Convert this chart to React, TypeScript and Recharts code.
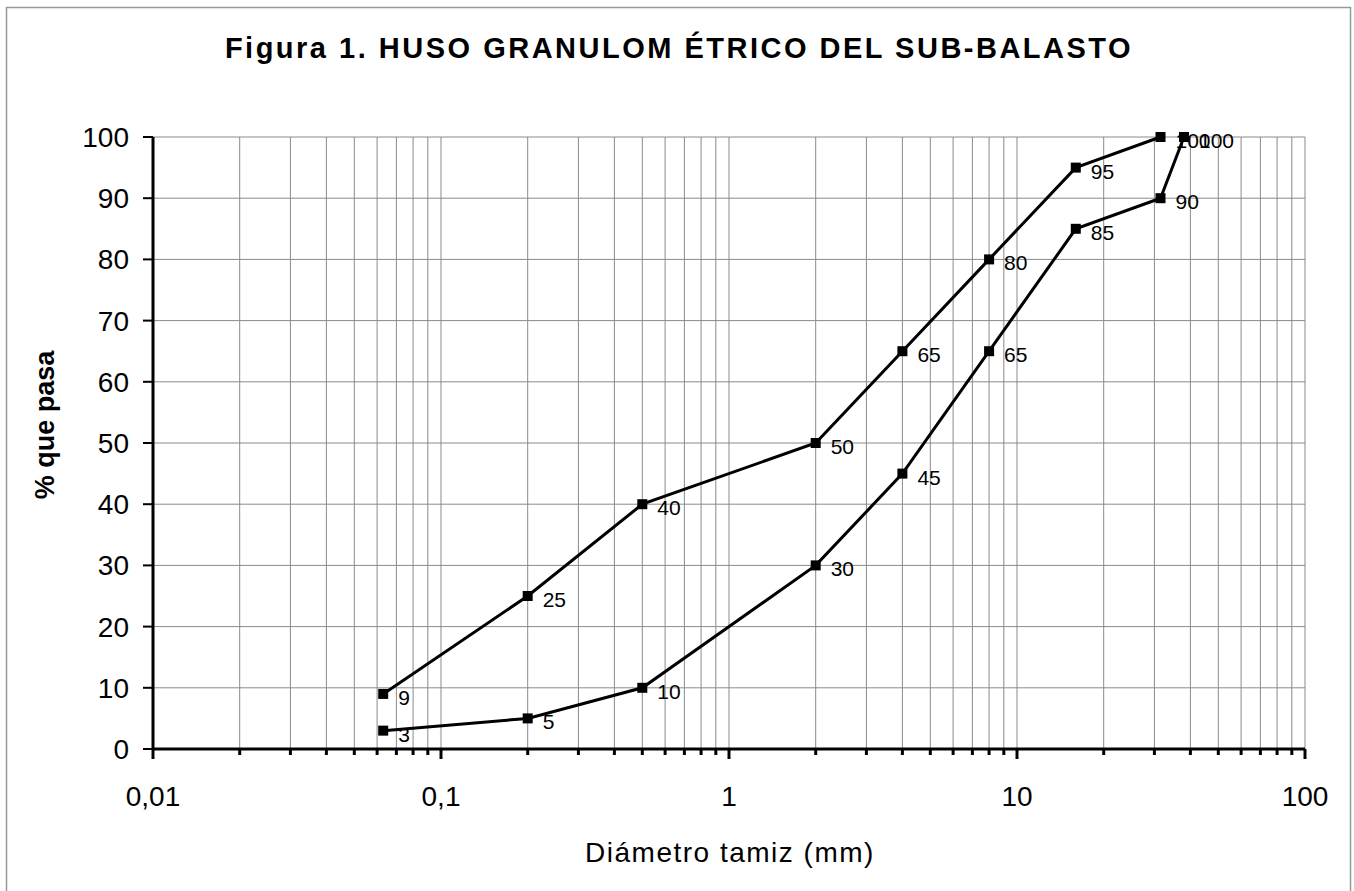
import React from 'react';
import { ComposedChart, Line, XAxis, YAxis, CartesianGrid, LabelList } from 'recharts';

// Sieve sizes (mm) and % passing
const upperSizes = [0.063, 0.2, 0.5, 2, 4, 8, 16, 31.5];
const upperPass = [9, 25, 40, 50, 65, 80, 95, 100];
const lowerSizes = [0.063, 0.2, 0.5, 2, 4, 8, 16, 31.5, 38];
const lowerPass = [3, 5, 10, 30, 45, 65, 85, 90, 100];

const decadeValues = [0.01, 0.1, 1, 10, 100];
const decadeLabels = ['0,01', '0,1', '1', '10', '100'];
const minorMultipliers = [1, 2, 3, 4, 5, 6, 7, 8, 9];
const yTicks = [0, 10, 20, 30, 40, 50, 60, 70, 80, 90, 100];

const titleText = 'Figura 1. HUSO GRANULOM ÉTRICO DEL SUB-BALASTO';
const yLabelText = '% que pasa';
const xLabelText = 'Diámetro tamiz (mm)';

const upperData = upperSizes.map((x, i) => ({ x, y: upperPass[i] }));
const lowerData = lowerSizes.map((x, i) => ({ x, y: lowerPass[i] }));

const xTicks: number[] = [];
decadeValues.slice(0, -1).forEach((d) => {
  minorMultipliers.forEach((m) => xTicks.push(parseFloat((d * m).toPrecision(6))));
});
xTicks.push(decadeValues[decadeValues.length - 1]);

const FONT = 'Arial, "Liberation Sans", Helvetica, sans-serif';

const XTick = (props: any) => {
  const { x, y, payload } = props;
  const v = payload.value;
  const di = decadeValues.findIndex((d) => Math.abs(d - v) / d < 1e-6);
  const major = di >= 0;
  return (
    <g>
      <line x1={x} x2={x} y1={y} y2={y + (major ? 10 : 6)} stroke="#000" strokeWidth={3} />
      {major && (
        <text x={x} y={y + 57} textAnchor="middle" fontSize={28} fontFamily={FONT} fill="#000">
          {decadeLabels[di]}
        </text>
      )}
    </g>
  );
};

const SquareDot = (props: any) => {
  const { cx, cy } = props;
  if (cx == null || cy == null) return null;
  return <rect x={cx - 5} y={cy - 5} width={10} height={10} fill="#000" />;
};

const PointLabel = (props: any) => {
  const { x, y, value } = props;
  return (
    <text x={x + 15} y={y + 11} fontSize={21} fontFamily={FONT} fill="#000">
      {value}
    </text>
  );
};

export default function App() {
  return (
    <div style={{ position: 'absolute', left: 0, top: 0, width: 1354, height: 891, background: '#fff', overflow: 'hidden' }}>
      <ComposedChart
        width={1354}
        height={891}
        margin={{ top: 137, right: 49, bottom: 62, left: 73 }}
      >
        <CartesianGrid stroke="#8a8a8a" strokeWidth={1} />
        <XAxis
          dataKey="x"
          type="number"
          scale="log"
          domain={[0.01, 100]}
          ticks={xTicks}
          interval={0}
          allowDataOverflow
          height={80}
          tickSize={0}
          tickMargin={0}
          tickLine={false}
          axisLine={{ stroke: '#000', strokeWidth: 3 }}
          tick={<XTick />}
        />
        <YAxis
          type="number"
          domain={[0, 100]}
          ticks={yTicks}
          interval={0}
          width={80}
          tickSize={10}
          tickMargin={14}
          tickLine={{ stroke: '#000', strokeWidth: 2 }}
          axisLine={{ stroke: '#000', strokeWidth: 3 }}
          tick={{ fill: '#000', fontSize: 28, fontFamily: FONT }}
        />
        <Line
          data={upperData}
          dataKey="y"
          stroke="#000"
          strokeWidth={3}
          dot={<SquareDot />}
          activeDot={false}
          isAnimationActive={false}
        >
          <LabelList dataKey="y" content={<PointLabel />} />
        </Line>
        <Line
          data={lowerData}
          dataKey="y"
          stroke="#000"
          strokeWidth={3}
          dot={<SquareDot />}
          activeDot={false}
          isAnimationActive={false}
        >
          <LabelList dataKey="y" content={<PointLabel />} />
        </Line>
      </ComposedChart>
      <svg
        width={1354}
        height={891}
        style={{ position: 'absolute', left: 0, top: 0, pointerEvents: 'none' }}
      >
        <rect x={6.5} y={7.5} width={1344} height={900} fill="none" stroke="#999" strokeWidth={1.5} />
        <text x={679} y={58} textAnchor="middle" fontSize={29} fontWeight="bold" fontFamily={FONT} letterSpacing={2.5} fill="#000">
          {titleText}
        </text>
        <text
          x={54}
          y={425}
          textAnchor="middle"
          fontSize={27}
          fontWeight="bold"
          fontFamily={FONT}
          fill="#000"
          transform="rotate(-90, 54, 425)"
        >
          {yLabelText}
        </text>
        <text x={730} y={862} textAnchor="middle" fontSize={28} fontFamily={FONT} letterSpacing={1.5} fill="#000">
          {xLabelText}
        </text>
      </svg>
    </div>
  );
}
